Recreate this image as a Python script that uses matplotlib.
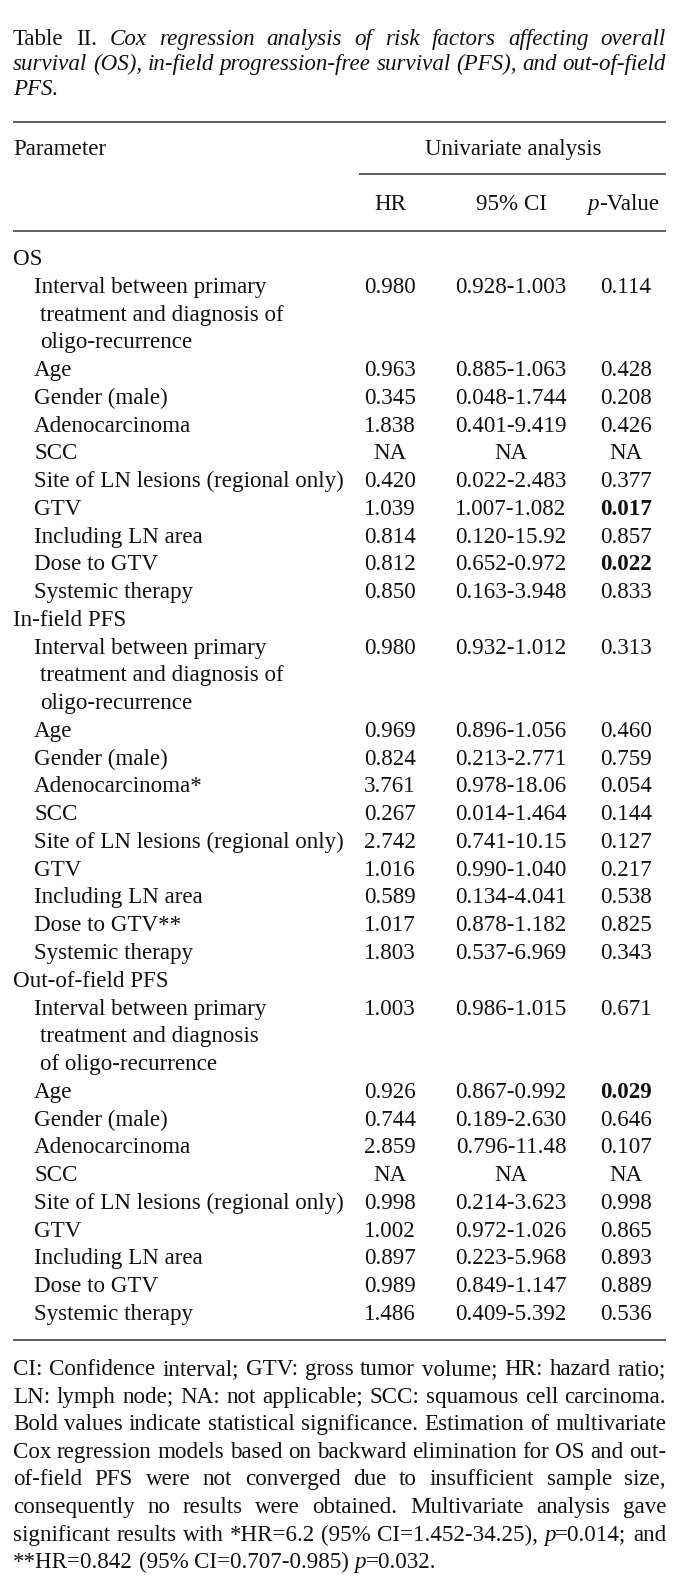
import re

import matplotlib
matplotlib.use("Agg")
import matplotlib.pyplot as plt

W, H = 687, 1596
FONT = "Liberation Serif"
FS = 16.6
INK = "#111111"
RULE = "#333333"

# caption: base style italic, {...} = upright
caption = [
    "{Table} {II.} Cox regression analysis of risk factors affecting overall",
    "survival (OS), in-field progression-free survival (PFS), and out-of-field",
    "PFS.",
]

col_heads = ["HR", "95% CI", "{p}-Value"]

sections = ["OS", "In-field PFS", "Out-of-field PFS"]

os_params = ["Interval between primary\ntreatment and diagnosis of\noligo-recurrence",
             "Age", "Gender (male)", "Adenocarcinoma", "SCC",
             "Site of LN lesions (regional only)", "GTV", "Including LN area",
             "Dose to GTV", "Systemic therapy"]
os_hr = ["0.980", "0.963", "0.345", "1.838", "NA", "0.420", "1.039", "0.814", "0.812", "0.850"]
os_ci = ["0.928-1.003", "0.885-1.063", "0.048-1.744", "0.401-9.419", "NA",
         "0.022-2.483", "1.007-1.082", "0.120-15.92", "0.652-0.972", "0.163-3.948"]
os_p = ["0.114", "0.428", "0.208", "0.426", "NA", "0.377", "0.017", "0.857", "0.022", "0.833"]

in_params = ["Interval between primary\ntreatment and diagnosis of\noligo-recurrence",
             "Age", "Gender (male)", "Adenocarcinoma*", "SCC",
             "Site of LN lesions (regional only)", "GTV", "Including LN area",
             "Dose to GTV**", "Systemic therapy"]
in_hr = ["0.980", "0.969", "0.824", "3.761", "0.267", "2.742", "1.016", "0.589", "1.017", "1.803"]
in_ci = ["0.932-1.012", "0.896-1.056", "0.213-2.771", "0.978-18.06", "0.014-1.464",
         "0.741-10.15", "0.990-1.040", "0.134-4.041", "0.878-1.182", "0.537-6.969"]
in_p = ["0.313", "0.460", "0.759", "0.054", "0.144", "0.127", "0.217", "0.538", "0.825", "0.343"]

out_params = ["Interval between primary\ntreatment and diagnosis\nof oligo-recurrence",
              "Age", "Gender (male)", "Adenocarcinoma", "SCC",
              "Site of LN lesions (regional only)", "GTV", "Including LN area",
              "Dose to GTV", "Systemic therapy"]
out_hr = ["1.003", "0.926", "0.744", "2.859", "NA", "0.998", "1.002", "0.897", "0.989", "1.486"]
out_ci = ["0.986-1.015", "0.867-0.992", "0.189-2.630", "0.796-11.48", "NA",
          "0.214-3.623", "0.972-1.026", "0.223-5.968", "0.849-1.147", "0.409-5.392"]
out_p = ["0.671", "0.029", "0.646", "0.107", "NA", "0.998", "0.865", "0.893", "0.889", "0.536"]

# footnote: base style normal, {...} = italic
footnote = [
    "CI: Confidence interval; GTV: gross tumor volume; HR: hazard ratio;",
    "LN: lymph node; NA: not applicable; SCC: squamous cell carcinoma.",
    "Bold values indicate statistical significance. Estimation of multivariate",
    "Cox regression models based on backward elimination for OS and out-",
    "of-field PFS were not converged due to insufficient sample size,",
    "consequently no results were obtained. Multivariate analysis gave",
    "significant results with *HR=6.2 (95% CI=1.452-34.25), {p}=0.014; and",
    "**HR=0.842 (95% CI=0.707-0.985) {p}=0.032.",
]

# layout (pixels)
X0, X1 = 13, 666
X_IND, X_CONT = 34, 40
X_HR, X_CI, X_P = 390, 511, 626
X_PHEAD = 623
ROW0, PITCH = 265, 27.76
CAP0, CAP_PITCH = 45, 25
FOOT0, FOOT_PITCH = 1375, 27.6

fig = plt.figure(figsize=(W / 100, H / 100), dpi=100)
ax = fig.add_axes([0, 0, 1, 1])
ax.set_xlim(0, W)
ax.set_ylim(H, 0)
ax.axis("off")
r = fig.canvas.get_renderer()


def txt(x, y, s, ha="left", style="normal", weight="normal"):
    return ax.text(x, y, s, fontsize=FS, family=FONT, style=style, weight=weight,
                   ha=ha, va="baseline", color=INK)


def width(t):
    return t.get_window_extent(r).width


def probe(s):
    t = txt(0, H / 2, s)
    w = width(t)
    t.remove()
    return w


SPACE = probe("a a") - probe("aa")


def draw_line(line, y, base, alt, justify):
    words = []
    for w in line.split(" "):
        parts = re.split(r"[{}]", w)
        segs = []
        for i, p in enumerate(parts):
            if p:
                t = txt(0, y, p, style=alt if i % 2 else base)
                segs.append((t, width(t)))
        words.append(segs)
    wsum = [sum(sw for _, sw in s) for s in words]
    gap = (X1 - X0 - sum(wsum)) / (len(words) - 1) if justify and len(words) > 1 else SPACE
    x = X0
    for segs, ww in zip(words, wsum):
        xx = x
        for t, sw in segs:
            t.set_x(xx)
            xx += sw
        x += ww + gap


def rich(x, y, s, base, alt):
    parts = re.split(r"[{}]", s)
    segs = [txt(0, y, p, style=alt if i % 2 else base) for i, p in enumerate(parts) if p]
    tot = sum(width(t) for t in segs)
    xx = x - tot / 2
    for t in segs:
        t.set_x(xx)
        xx += width(t)


# caption
for i, line in enumerate(caption):
    draw_line(line, CAP0 + i * CAP_PITCH, "italic", "normal", i < len(caption) - 1)

# header
ax.plot([X0, X1], [122, 122], color=RULE, lw=1.1, solid_capstyle="butt")
txt(X0, 155, "Parameter")
txt(513, 155, "Univariate analysis", ha="center")
ax.plot([359, X1], [174, 174], color=RULE, lw=1.1, solid_capstyle="butt")
for x, h in zip([X_HR, X_CI, X_PHEAD], col_heads):
    rich(x, 210, h, "normal", "italic")
ax.plot([X0, X1], [231, 231], color=RULE, lw=1.1, solid_capstyle="butt")

# body
blocks = [(os_params, os_hr, os_ci, os_p),
          (in_params, in_hr, in_ci, in_p),
          (out_params, out_hr, out_ci, out_p)]
k = 0
for name, (params, hr, ci, pv) in zip(sections, blocks):
    txt(X0, ROW0 + k * PITCH, name)
    k += 1
    for lab, h, c, p in zip(params, hr, ci, pv):
        y = ROW0 + k * PITCH
        for j, part in enumerate(lab.split("\n")):
            txt(X_IND if j == 0 else X_CONT, ROW0 + (k + j) * PITCH, part)
        txt(X_HR, y, h, ha="center")
        txt(X_CI, y, c, ha="center")
        sig = p != "NA" and float(p) < 0.05
        txt(X_P, y, p, ha="center", weight="bold" if sig else "normal")
        k += len(lab.split("\n"))

ax.plot([X0, X1], [1340, 1340], color=RULE, lw=1.1, solid_capstyle="butt")

# footnote
for i, line in enumerate(footnote):
    draw_line(line, FOOT0 + i * FOOT_PITCH, "normal", "italic", i < len(footnote) - 1)

fig.savefig("out.png", dpi=100)
